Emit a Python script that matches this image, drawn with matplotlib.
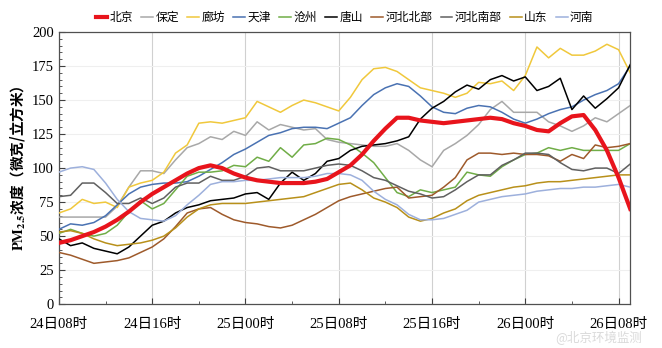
import numpy as np
import matplotlib.pyplot as plt
from matplotlib.ticker import MultipleLocator

plt.rcParams['font.family'] = ['Liberation Serif', 'Noto Sans CJK SC']
plt.rcParams['mathtext.fontset'] = 'stix'

hours = np.arange(50)  # hours since 24日08时

beijing = [45, 47, 50, 53, 57, 62, 68, 75, 81, 86, 91, 96, 100, 102, 100, 96, 93, 91, 90, 89,
           89, 89, 90, 92, 97, 102, 110, 120, 129, 137, 137, 135, 134, 133, 134, 135, 136, 137, 136, 133,
           131, 128, 127, 133, 138, 139, 128, 113, 93, 70]
baoding = [64, 64, 64, 64, 64, 72, 86, 98, 98, 96, 106, 115, 118, 123, 121, 127, 124, 134, 128, 132,
           130, 128, 129, 121, 119, 118, 117, 116, 116, 118, 113, 106, 101, 113, 118, 124, 132, 143, 149, 141,
           141, 141, 134, 131, 127, 131, 137, 134, 140, 146]
langfang = [67, 70, 77, 74, 75, 71, 86, 89, 91, 97, 111, 117, 133, 134, 133, 135, 137, 149, 145, 141,
            146, 150, 148, 145, 142, 152, 165, 173, 174, 171, 165, 159, 157, 155, 152, 155, 163, 162, 164, 157,
            168, 189, 181, 188, 183, 183, 186, 191, 187, 170]
tianjin = [55, 59, 58, 60, 65, 73, 81, 86, 88, 89, 89, 90, 94, 99, 104, 110, 114, 119, 124, 126,
           129, 130, 130, 129, 133, 137, 146, 154, 159, 162, 160, 153, 145, 141, 140, 144, 146, 145, 141, 136,
           133, 136, 140, 143, 145, 150, 154, 157, 162, 175]
cangzhou = [52, 55, 52, 50, 52, 58, 68, 76, 70, 74, 84, 94, 97, 97, 98, 102, 101, 108, 105, 115,
            108, 117, 118, 122, 121, 117, 111, 104, 93, 82, 79, 84, 82, 84, 86, 97, 95, 94, 101, 106,
            110, 111, 115, 113, 115, 113, 113, 113, 113, 118]
tangshan = [48, 43, 45, 41, 39, 37, 42, 50, 58, 61, 67, 71, 73, 76, 77, 78, 81, 82, 77, 89,
            97, 91, 96, 105, 107, 113, 116, 117, 118, 120, 123, 136, 144, 149, 156, 161, 158, 165, 168, 164,
            167, 157, 160, 166, 143, 153, 144, 151, 159, 176]
hebei_n = [38, 36, 33, 30, 31, 32, 34, 38, 42, 48, 57, 67, 70, 71, 66, 62, 60, 59, 57, 56,
           58, 62, 66, 71, 76, 79, 81, 83, 85, 86, 78, 79, 80, 86, 93, 106, 111, 111, 110, 111,
           110, 110, 109, 105, 110, 107, 117, 115, 116, 118]
hebei_s = [79, 80, 89, 89, 82, 74, 74, 78, 74, 78, 86, 89, 89, 94, 91, 91, 94, 100, 101, 98,
           98, 98, 100, 102, 103, 102, 98, 93, 91, 87, 83, 81, 78, 79, 84, 90, 95, 95, 102, 106,
           111, 111, 110, 104, 99, 98, 100, 100, 96, 103]
shandong = [53, 54, 52, 48, 45, 43, 44, 45, 47, 50, 56, 64, 70, 73, 74, 74, 74, 75, 76, 77,
            78, 79, 82, 85, 88, 89, 84, 78, 75, 71, 64, 61, 63, 67, 70, 76, 80, 82, 84, 86,
            87, 89, 90, 90, 91, 92, 93, 94, 95, 95]
henan = [97, 100, 101, 99, 89, 77, 68, 63, 62, 61, 65, 73, 80, 88, 90, 90, 91, 91, 92, 93,
         93, 93, 94, 96, 96, 95, 91, 83, 77, 73, 66, 62, 62, 63, 66, 69, 75, 77, 79, 80,
         81, 83, 84, 85, 85, 86, 86, 87, 88, 86]

names = ['北京', '保定', '廊坊', '天津', '沧州', '唐山', '河北北部', '河北南部', '山东', '河南']
series = [beijing, baoding, langfang, tianjin, cangzhou, tangshan, hebei_n, hebei_s, shandong, henan]
colors = ['#e8141c', '#a8a8a8', '#f0c83c', '#4a72b2', '#70ad47', '#000000',
          '#9e5a2b', '#606060', '#b8901a', '#9db0dc']

tick_hours = [0, 8, 16, 24, 32, 40, 48]
tick_labels = ['24日08时', '24日16时', '25日00时', '25日08时', '25日16时', '26日00时', '26日08时']

fig = plt.figure(figsize=(6.62, 3.48), dpi=100)
ax = fig.add_axes([0.089, 0.126, 0.863, 0.782])

for i in range(len(names)):
    if i == 0:
        ax.plot(hours, series[i], color=colors[i], lw=3.0, label=names[i], zorder=5)
    else:
        ax.plot(hours, series[i], color=colors[i], lw=1.1, label=names[i], zorder=3)

ax.set_xlim(0, 49)
ax.set_ylim(0, 200)
ax.set_xticks(tick_hours)
ax.set_xticklabels(tick_labels, fontsize=10)
ax.xaxis.set_minor_locator(MultipleLocator(4))
ax.yaxis.set_major_locator(MultipleLocator(25))
ax.yaxis.set_minor_locator(MultipleLocator(5))
ax.tick_params(axis='both', which='major', direction='in', length=4, labelsize=10.5, color='#404040')
ax.tick_params(axis='both', which='minor', direction='in', length=2.5, color='#404040')
ax.tick_params(axis='x', pad=10)
ax.grid(True, axis='x', color='#d0d0d0', lw=0.8)
ax.grid(True, axis='y', color='#efefef', lw=0.8)
ax.set_axisbelow(True)
for s in ax.spines.values():
    s.set_color('#505050')
    s.set_linewidth(0.9)

# CJK font only, so the mixed mathtext label has the glyphs it needs
ax.set_ylabel(r'$\mathbf{PM_{2.5}}$浓度（微克/立方米）', fontsize=10.5, fontweight='bold',
              family=['Noto Sans CJK SC'], labelpad=4)

leg = ax.legend(ncol=10, loc='lower center', bbox_to_anchor=(0.5, 1.0), frameon=False,
                prop={'family': ['Noto Sans CJK SC'], 'size': 8.5}, handlelength=1.0,
                handletextpad=0.2, columnspacing=0.7, borderaxespad=0.3)

fig.text(0.97, 0.028, '@北京环境监测', fontsize=9, color='#dadada', ha='right', va='center',
         family=['Noto Sans CJK SC'])

fig.savefig('out.png', dpi=100)
